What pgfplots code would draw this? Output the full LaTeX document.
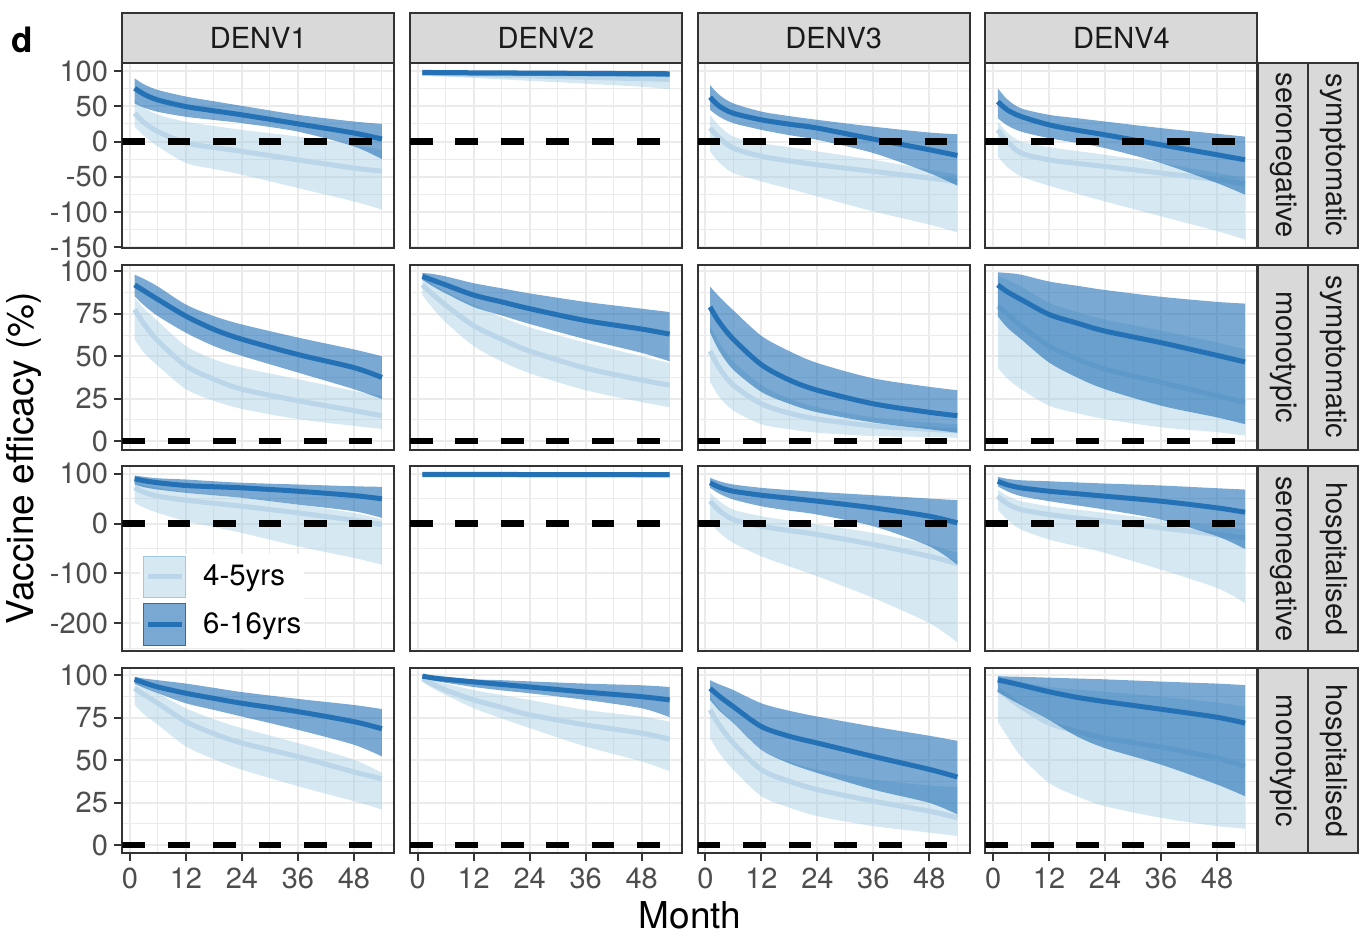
\documentclass[border=0pt]{standalone}
\usepackage{fontspec}
\setmainfont{TeX Gyre Heros}
\usepackage{pgfplots}
\pgfplotsset{compat=1.18}
\usepackage{pgfplotstable}
\usepgfplotslibrary{fillbetween}
\pgfplotsset{/tikz/fill between/on layer=main}

\definecolor{grey10}{HTML}{1A1A1A}
\definecolor{grey20}{HTML}{333333}
\definecolor{grey30}{HTML}{4D4D4D}
\definecolor{grey85}{HTML}{D9D9D9}
\definecolor{grid92}{HTML}{EBEBEB}
\definecolor{lightfill}{HTML}{9ECAE1}
\definecolor{darkfill}{HTML}{2171B5}
\definecolor{lightline}{HTML}{BAD6E8}
\definecolor{darkline}{HTML}{2571B5}

\newcommand\smallfont{\fontsize{14.5}{17}\selectfont}
\newcommand\bigfont{\fontsize{18.5}{22}\selectfont}

% columns: m, 4-5yrs (l1 c1 u1), 6-16yrs (l2 c2 u2)
\pgfplotstableread{
m l1 c1 u1 l2 c2 u2
1 21 40 59 54 75.5 89.6
3 8 27 48 48 67 81
6 -7 14 38 42 58.8 73
12 -30.5 -2 28 35 49.5 63.7
18 -39 -8.5 22 30.5 43.5 57
24 -47 -14 16.5 26 37.8 50.5
36 -66 -26 7 14 25 37.8
48 -85 -37.6 -5 -7 12 28.3
54 -96.6 -42 -12 -25 3.5 25
}\datAA
\pgfplotstableread{
m l1 c1 u1 l2 c2 u2
1 93 97 99.5 94 98 100
3 92.5 96.5 99.5 94 97.8 100
6 92 96 99.5 93.8 97.6 100
12 90 95 99 93.5 97.4 99.9
18 88 94 99 93.3 97.2 99.8
24 86 93 98.5 93 97 99.7
36 82 91 98 92.5 96.6 99.5
48 77.5 89 97.5 92 96.2 99.3
54 74 88 97 91.5 96 99.2
}\datAB
\pgfplotstableread{
m l1 c1 u1 l2 c2 u2
1 -14 19 37.8 44.8 62.8 80
3 -30 5 22 35 50 66
6 -44.7 -9.4 7 26 40 54
12 -56.6 -21 -2.4 16.5 30.7 42.4
18 -67 -27.5 -8 9 24.5 36
24 -77.8 -33 -14 2.4 19 30.7
36 -99 -42.4 -26 -16.4 3.4 21
48 -117.8 -51.8 -40 -44.7 -11.7 12.7
54 -128.7 -56.6 -47 -62.7 -19.8 10.4
}\datAC
\pgfplotstableread{
m l1 c1 u1 l2 c2 u2
1 -21 16.5 28.3 33 56.6 75.5
3 -36 0 13 23 45 60
6 -49.5 -16.4 0 14 35.4 47
12 -62.7 -26 -8 4.7 23.6 37.8
18 -74 -31 -13.5 -2 16 33
24 -85 -35.4 -18.8 -9.4 9.5 28.3
36 -106 -44.7 -30.6 -30.6 -4.7 19
48 -127 -54 -44.7 -58.9 -18.8 10.9
54 -139 -60 -51.8 -75.4 -25.9 7
}\datAD
\pgfplotstableread{
m l1 c1 u1 l2 c2 u2
1 60 77.5 84.4 85.3 92 98
3 52 69 78 80 88.5 95.5
6 44.3 59 70.6 73.6 83.4 91
12 30.6 44.3 56 63.8 73.6 80.4
18 23.8 36.5 48.2 56 65.8 73.6
24 19 30.6 43.3 50.2 60 68.7
36 13 23.8 36.5 40.4 51 61
48 9 18 29.6 30.6 43.3 54
54 7.2 15 26.7 24.8 37.5 50
}\datBA
\pgfplotstableread{
m l1 c1 u1 l2 c2 u2
1 86 92 96 95 97 99
3 79 87 93 91.5 95 98.5
6 70 80 88 87 92 97
12 56 68 80 79 86 93
18 47 60 73 74 82 90
24 40 53 67 69 78 87
36 30 43 58 60 71 82
48 23 36 50 52 66 78
54 20 33 46 47 63 76
}\datBB
\pgfplotstableread{
m l1 c1 u1 l2 c2 u2
1 35 53 68 64 79 91
3 26 43 58 53 70 85
6 18 33 47 42 60 77
12 10 22 33 29 45 62
18 7 16.5 25 22 36 53
24 5 13 20 17 30 46
36 3 9 14 11 22 37
48 2.5 7 11 7 17 32
54 2 6 10 5 15 30
}\datBC
\pgfplotstableread{
m l1 c1 u1 l2 c2 u2
1 43.3 79.5 97 73.6 92 99.4
3 37 75 95 67 88 99
6 30.6 68 91 60 83.4 98
12 20.9 56 81.4 46.3 74.6 94
18 16.5 48.5 76 37.5 69.5 91.5
24 13 42.4 71.6 30.6 64.8 89
36 8.2 34.6 65 20.9 58 85
48 5.3 26.7 58 14 50.5 82
54 3.3 22.8 54 10 46.6 81
}\datBD
\pgfplotstableread{
m l1 c1 u1 l2 c2 u2
1 41.6 71.8 85 78.5 90 96.6
3 32 63 78 73 86 94
6 21.5 55 71.8 68.4 82 91
12 4.7 46.9 63 61.8 76.5 88.5
18 -7 40.8 57 56.8 74 85
24 -18.8 34.8 51.7 51.7 71.8 82
36 -45.6 21.5 38 38.2 65 78.5
48 -69 6.7 21.5 24.8 56.3 75
54 -82.5 -2 8 11.4 49.7 73.8
}\datCA
\pgfplotstableread{
m l1 c1 u1 l2 c2 u2
1 95 98 99.5 96.5 98.7 100
12 94.8 97.9 99.5 96.4 98.7 100
24 94.6 97.8 99.4 96.3 98.6 100
36 94.4 97.7 99.4 96.2 98.6 99.9
48 94.2 97.6 99.3 96.1 98.5 99.9
54 94 97.5 99.3 96 98.5 99.9
}\datCB
\pgfplotstableread{
m l1 c1 u1 l2 c2 u2
1 1.3 45 61.8 71.8 81.9 92
3 -18 26 45 60 73 85
6 -38.8 8 28 48.3 65 78.5
12 -65.8 -5.4 14.8 34.8 57 71.8
18 -86 -14 6 26 51 67.5
24 -106 -22 -2 18.1 45 63.7
36 -149.5 -42 -18.8 -5.4 31.6 57
48 -200 -65.8 -42 -45.6 14.8 50.3
54 -238.8 -80.5 -59 -82.5 1.3 47
}\datCC
\pgfplotstableread{
m l1 c1 u1 l2 c2 u2
1 28 55 68.4 75 85 94
3 8 40 56 65 78 90
6 -12 28 45 55 71.8 87
12 -32 18.1 34.8 45 65 85
18 -45.5 11 28 36.5 60 82.7
24 -59 4.7 21.5 28 55 80.5
36 -92.6 -8.7 8 8 45 76.5
48 -129.4 -22 -5.4 -25.5 31.6 71
54 -159.6 -28.8 -12 -51 22.8 68.4
}\datCD
\pgfplotstableread{
m l1 c1 u1 l2 c2 u2
1 82.4 92.2 96 95 97.5 99
3 77 88.5 93 92.5 95.5 98
6 70.7 83.4 89.3 89.3 93 97
12 58 72.6 80.5 83.4 89.3 95
18 50.5 65.5 74 79.5 86.3 92.5
24 44.3 60 68.8 75.6 83.4 90
36 34.6 52 60 67.8 78.5 86
48 25.8 43 50.2 59 72.6 82.4
54 20.9 38.9 42.4 52.1 68.4 80
}\datDA
\pgfplotstableread{
m l1 c1 u1 l2 c2 u2
1 96 98 99 98.6 99.4 99.8
3 92.5 95 97.5 97 98.5 99.5
6 88.3 91.2 95 95.5 97.5 99
12 80.5 85.4 91.2 93 96 97.5
18 74.5 81 88.3 91 94.5 97
24 68.8 76.6 85.4 89.3 93 96.3
36 58 70.7 79.5 85.4 90 95
48 49.2 65.8 75.6 80.5 87.3 94
54 43.4 62.3 72.6 75.2 85.4 93
}\datDB
\pgfplotstableread{
m l1 c1 u1 l2 c2 u2
1 62.9 79.5 87.3 85.4 92.2 97
3 54 70.5 80 79 87.5 94.5
6 44.3 60 71.7 71.7 81.4 91.2
12 28.7 44.3 56 56 69.7 83.4
18 22 37.5 49 48 64 79
24 17 32.6 44.3 42.4 60 75.6
36 11.1 25.8 38.5 32.6 52.1 69.7
48 7.3 19.9 35 24.8 44.5 64.3
54 5.3 16 34 18 40 61.3
}\datDC
\pgfplotstableread{
m l1 c1 u1 l2 c2 u2
1 72.6 91.6 99 90.2 97.1 99.4
3 64 87.5 98 86.8 96 99.2
6 52.1 81.4 96 82.4 94.1 99
12 36.5 71.7 93 73.6 90.2 98.5
18 28.7 66.8 91.5 63.9 86.9 98
24 22.8 62.9 90.2 57 84.4 97.5
36 16 57.6 87.3 47.3 79.9 96.2
48 11.1 51.2 83.8 35.6 75.2 95
54 9.6 46.3 81.4 28.7 71.7 94.1
}\datDD

\pgfplotsset{
  panel/.style={
    scale only axis, width=136pt, height=92.5pt,
    xmin=-1.65, xmax=56.65,
    xtick={0,12,24,36,48}, minor xtick={6,18,30,42,54},
    grid=both,
    major grid style={draw=grid92, line width=1pt},
    minor grid style={draw=grid92, line width=0.5pt},
    axis line style={draw=grey20, line width=1pt},
    tick style={draw=grey20, line width=1pt},
    major tick length=4pt, minor tick length=0pt,
    tick align=outside, tick pos=left,
    xticklabels={}, yticklabels={},
    xmajorticks=false, ymajorticks=false,
    ticklabel style={font=\smallfont, text=grey30, inner sep=0pt},
    yticklabel style={anchor=east, xshift=-3pt},
    xticklabel style={anchor=north, yshift=-3.3pt},
    anchor=south west,
  },
  rowA/.style={ymin=-150.5, ymax=111.7, ytick={-150,-100,-50,0,50,100}, minor ytick={-125,-75,-25,25,75}},
  rowB/.style={ymin=-4.95, ymax=103.95, ytick={0,25,50,75,100}, minor ytick={12.5,37.5,62.5,87.5}},
  rowC/.style={ymin=-257, ymax=114.7, ytick={-200,-100,0,100}, minor ytick={-250,-150,-50,50}},
  labA/.style={ymajorticks=true, yticklabels={-150,-100,-50,0,50,100}},
  labB/.style={ymajorticks=true, yticklabels={0,25,50,75,100}},
  labC/.style={ymajorticks=true, yticklabels={-200,-100,0,100}},
  bottom/.style={xmajorticks=true, xticklabels={0,12,24,36,48}},
}

\newcommand\panelplots[1]{%
  \addplot[draw=none, smooth, name path=lA, forget plot] table[x=m,y=l1]{#1};
  \addplot[draw=none, smooth, name path=uA, forget plot] table[x=m,y=u1]{#1};
  \addplot[fill=lightfill, fill opacity=0.42, draw=none, forget plot] fill between[of=lA and uA];
  \addplot[lightline, line width=2.5pt, smooth, forget plot] table[x=m,y=c1]{#1};
  \addplot[draw=none, smooth, name path=lB, forget plot] table[x=m,y=l2]{#1};
  \addplot[draw=none, smooth, name path=uB, forget plot] table[x=m,y=u2]{#1};
  \addplot[fill=darkfill, fill opacity=0.6, draw=none, forget plot] fill between[of=lB and uB];
  \addplot[darkline, line width=2.5pt, smooth, forget plot] table[x=m,y=c2]{#1};
  \addplot[black, line width=3.2pt, dash pattern=on 11.35pt off 11.35pt, forget plot] coordinates {(-1.65,0) (56.65,0)};
}

\begin{document}
\begin{tikzpicture}

% row 1
\begin{axis}[panel,rowA,labA,at={(61.15pt,344.65pt)}]\panelplots{\datAA}\end{axis}
\begin{axis}[panel,rowA,at={(205pt,344.65pt)}]\panelplots{\datAB}\end{axis}
\begin{axis}[panel,rowA,at={(348.85pt,344.65pt)}]\panelplots{\datAC}\end{axis}
\begin{axis}[panel,rowA,at={(492.7pt,344.65pt)}]\panelplots{\datAD}\end{axis}
% row 2
\begin{axis}[panel,rowB,labB,at={(61.15pt,243.7pt)}]\panelplots{\datBA}\end{axis}
\begin{axis}[panel,rowB,at={(205pt,243.7pt)}]\panelplots{\datBB}\end{axis}
\begin{axis}[panel,rowB,at={(348.85pt,243.7pt)}]\panelplots{\datBC}\end{axis}
\begin{axis}[panel,rowB,at={(492.7pt,243.7pt)}]\panelplots{\datBD}\end{axis}
% row 3
\begin{axis}[panel,rowC,labC,at={(61.15pt,142.75pt)},
  legend style={at={(0.065,0.019)}, anchor=south west, draw=none, fill=white,
    inner xsep=1.5pt, inner ysep=1pt, row sep=2.6pt, font=\fontsize{14.7}{17}\selectfont,
    nodes={inner sep=0pt}, cells={anchor=west},
    /tikz/every odd column/.append style={column sep=8.5pt}},
  legend cell align=left]
\addlegendimage{legend image code/.code={\fill[lightfill, fill opacity=0.42] (0pt,-10.4pt) rectangle (21pt,10.4pt); \draw[lightline, line width=2.5pt] (2pt,0pt) -- (19pt,0pt);}}
\addlegendentry{4-5yrs}
\addlegendimage{legend image code/.code={\fill[darkfill, fill opacity=0.6] (0pt,-10.4pt) rectangle (21pt,10.4pt); \draw[darkline, line width=2.5pt] (2pt,0pt) -- (19pt,0pt);}}
\addlegendentry{6-16yrs}
\panelplots{\datCA}
\end{axis}
\begin{axis}[panel,rowC,at={(205pt,142.75pt)}]\panelplots{\datCB}\end{axis}
\begin{axis}[panel,rowC,at={(348.85pt,142.75pt)}]\panelplots{\datCC}\end{axis}
\begin{axis}[panel,rowC,at={(492.7pt,142.75pt)}]\panelplots{\datCD}\end{axis}
% row 4
\begin{axis}[panel,rowB,labB,bottom,at={(61.15pt,41.8pt)}]\panelplots{\datDA}\end{axis}
\begin{axis}[panel,rowB,bottom,at={(205pt,41.8pt)}]\panelplots{\datDB}\end{axis}
\begin{axis}[panel,rowB,bottom,at={(348.85pt,41.8pt)}]\panelplots{\datDC}\end{axis}
\begin{axis}[panel,rowB,bottom,at={(492.7pt,41.8pt)}]\panelplots{\datDD}\end{axis}

% top strips
\foreach \x/\lab in {61.15/DENV1, 205/DENV2, 348.85/DENV3, 492.7/DENV4} {
  \draw[fill=grey85, draw=grey20, line width=1pt] (\x pt,437.15pt) rectangle ++(136pt,25pt);
  \node[font=\smallfont, text=grey10] at (\x pt+68pt,449.65pt) {\lab};
}
% right strips
\foreach \yb/\inner/\outer in {344.65/seronegative/symptomatic, 243.7/monotypic/symptomatic, 142.75/seronegative/hospitalised, 41.8/monotypic/hospitalised} {
  \draw[fill=grey85, draw=grey20, line width=1pt] (629.2pt,\yb pt) rectangle ++(25pt,92.5pt);
  \draw[fill=grey85, draw=grey20, line width=1pt] (654.2pt,\yb pt) rectangle ++(25pt,92.5pt);
  \node[font=\smallfont, text=grey10, rotate=-90] at (641.7pt,\yb pt+46.25pt) {\inner};
  \node[font=\smallfont, text=grey10, rotate=-90] at (666.7pt,\yb pt+46.25pt) {\outer};
}

\node[rotate=90, anchor=base, font=\bigfont] at (16.5pt,239.5pt) {Vaccine efficacy (\%)};
\node[anchor=base, font=\bigfont] at (345pt,4.4pt) {Month};
\node[anchor=base west, inner sep=0pt, font=\fontsize{17.5}{20}\selectfont\bfseries] at (5.3pt,442pt) {d};

\pgfresetboundingbox
\useasboundingbox (0,0) rectangle (680pt,468.5pt);
\end{tikzpicture}
\end{document}
